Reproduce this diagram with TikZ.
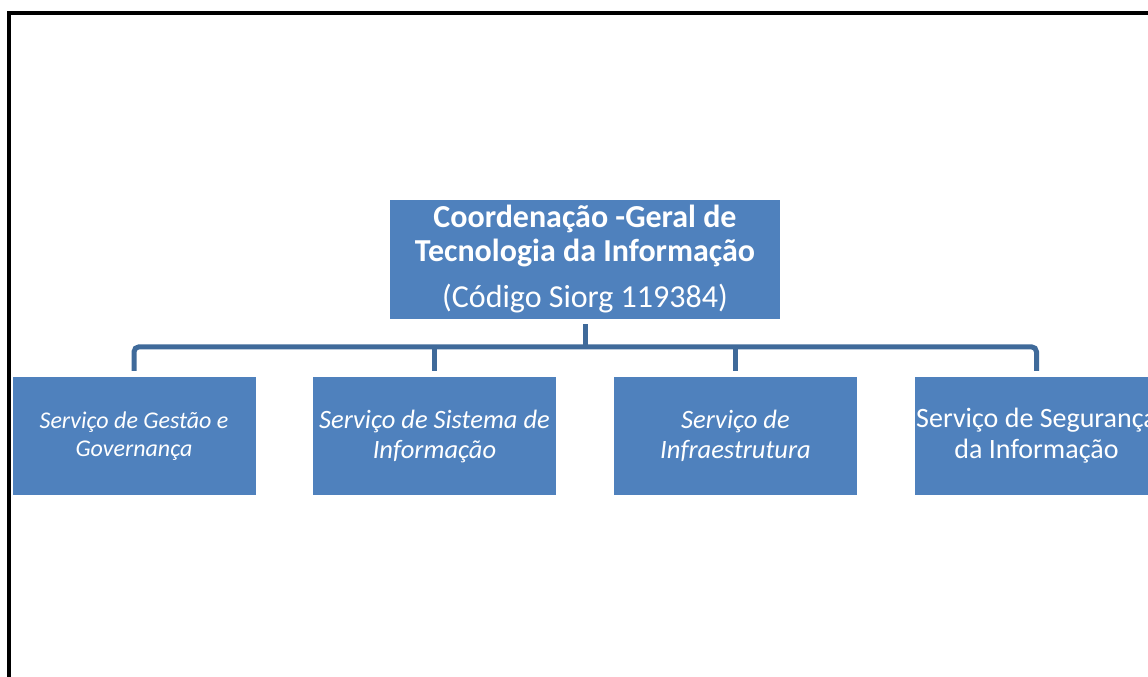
\documentclass[tikz,border=0pt]{standalone}
\usepackage{fontspec}
\setmainfont{Carlito}
\definecolor{boxblue}{HTML}{4F81BD}
\definecolor{connblue}{HTML}{3F6A9A}
\begin{document}
\begin{tikzpicture}[x=1pt,y=1pt,
  orgbox/.style={fill=boxblue, draw=none, minimum width=243pt, minimum height=118pt, inner sep=0pt, text=white, align=center},
  conn/.style={draw=connblue, line width=5pt}]
\useasboundingbox (0,0) rectangle (1148,-677);
\fill[white] (0,0) rectangle (1148,-677);
\draw[line width=4pt] (1170,-13) -- (9,-13) -- (9,-700);
\node[orgbox, minimum width=390pt, minimum height=119pt, font=\fontsize{32}{34}\selectfont] (p) at (585,-259.5)
  {\textbf{Coordenação -Geral de}\\\textbf{Tecnologia da Informação}\\[12pt](Código Siorg 119384)};
\node[orgbox, font=\fontsize{24}{28}\selectfont\itshape] (c1) at (134,-436) {Serviço de Gestão e\\Governança};
\node[orgbox, font=\fontsize{26.5}{30}\selectfont\itshape] (c2) at (434.5,-436) {Serviço de Sistema de\\Informação};
\node[orgbox, font=\fontsize{26.5}{30}\selectfont\itshape] (c3) at (735.5,-436) {Serviço de\\Infraestrutura};
\node[orgbox, font=\fontsize{28}{31}\selectfont] (c4) at (1036.5,-436) {Serviço de Segurança\\da Informação};
\draw[conn] ([yshift=-5pt]p.south) -- ([yshift=-28pt]p.south);
\draw[conn, rounded corners=5pt] ([yshift=6pt]c1.north) |- ([yshift=30pt]c4.north) -- ([yshift=6pt]c4.north);
\draw[conn] ([yshift=6pt]c2.north) -- ([yshift=30pt]c2.north);
\draw[conn] ([yshift=6pt]c3.north) -- ([yshift=30pt]c3.north);
\end{tikzpicture}
\end{document}
